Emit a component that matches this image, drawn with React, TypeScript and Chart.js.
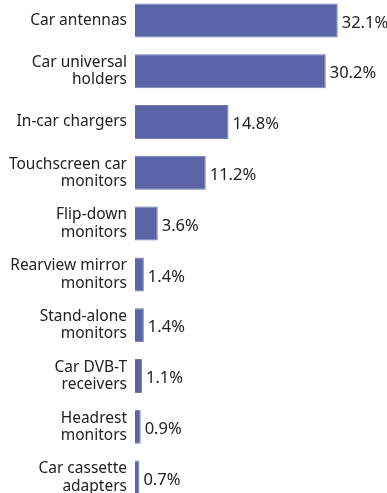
import React, { useEffect, useRef } from "react";
import { Chart, registerables } from "chart.js";

Chart.register(...registerables);

const categories: string[][] = [
  ["Car antennas"],
  ["Car universal", "holders"],
  ["In-car chargers"],
  ["Touchscreen car", "monitors"],
  ["Flip-down", "monitors"],
  ["Rearview mirror", "monitors"],
  ["Stand-alone", "monitors"],
  ["Car DVB-T", "receivers"],
  ["Headrest", "monitors"],
  ["Car cassette", "adapters"],
];
const values: number[] = [32.1, 30.2, 14.8, 11.2, 3.6, 1.4, 1.4, 1.1, 0.9, 0.7];
const valueLabels: string[] = ["32.1%", "30.2%", "14.8%", "11.2%", "3.6%", "1.4%", "1.4%", "1.1%", "0.9%", "0.7%"];

const FONT = "'Noto Sans', sans-serif";

const valueLabelPlugin = {
  id: "valueLabels",
  afterDatasetsDraw(chart: any) {
    const ctx = chart.ctx;
    const meta = chart.getDatasetMeta(0);
    ctx.save();
    ctx.font = `16.5px ${FONT}`;
    ctx.fillStyle = "#222222";
    ctx.textAlign = "left";
    ctx.textBaseline = "middle";
    meta.data.forEach((bar: any, i: number) => {
      ctx.fillText(valueLabels[i], bar.x + 4, bar.y + 2.5);
    });
    ctx.restore();
  },
};

export default function App() {
  const ref = useRef<HTMLCanvasElement | null>(null);
  useEffect(() => {
    if (!ref.current) return;
    const chart = new Chart(ref.current, {
      type: "bar",
      data: {
        labels: categories,
        datasets: [
          {
            data: values,
            backgroundColor: "#5a64a6",
            borderColor: "#6f78b3",
            borderWidth: 1,
            categoryPercentage: 1,
            barPercentage: 0.67,
          },
        ],
      },
      options: {
        indexAxis: "y",
        animation: false,
        responsive: true,
        maintainAspectRatio: false,
        layout: { padding: { left: 0, right: 12, top: 0, bottom: 0 } },
        plugins: {
          legend: { display: false },
          tooltip: { enabled: false },
        },
        scales: {
          x: {
            min: 0,
            max: 38,
            display: false,
            grid: { display: false },
          },
          y: {
            grid: { display: false, drawTicks: false },
            border: { display: false },
            ticks: {
              color: "#222222",
              padding: 8,
              font: { family: FONT, size: 15.5, lineHeight: 1.12 },
            },
            afterFit(scale: any) {
              scale.width = 135;
              scale.paddingTop = 0;
              scale.paddingBottom = 0;
            },
          },
        },
      },
      plugins: [valueLabelPlugin],
    });
    return () => chart.destroy();
  }, []);
  return (
    <div
      style={{
        position: "fixed",
        left: 0,
        top: -5,
        width: 387,
        height: 508,
        background: "#ffffff",
      }}
    >
      <canvas ref={ref} />
    </div>
  );
}
